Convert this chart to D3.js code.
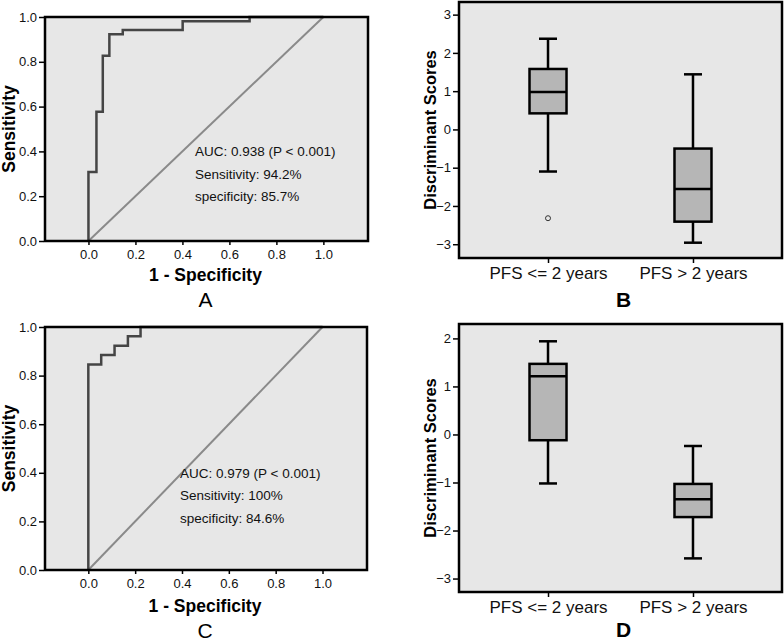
<!DOCTYPE html>
<html>
<head>
<meta charset="utf-8">
<script src="https://cdn.jsdelivr.net/npm/d3@7"></script>
<style>
  html, body { margin: 0; padding: 0; background: #fff; }
  svg { display: block; font-family: "Liberation Sans", Arial, sans-serif; }
</style>
</head>
<body>
<div id="chartContainer"></div>
<script>
// ROC curve A (1 - specificity, sensitivity)
const rocA_fpr = [0, 0, 0.034, 0.061, 0.089, 0.146, 0.401, 0.686, 1];
const rocA_tpr = [0, 0.308, 0.577, 0.827, 0.923, 0.942, 0.981, 1, 1];
const rocA_text = ["AUC: 0.938 (P < 0.001)", "Sensitivity: 94.2%", "specificity: 85.7%"];

// ROC curve C
const rocC_fpr = [0, 0, 0.055, 0.112, 0.169, 0.223, 1];
const rocC_tpr = [0, 0.846, 0.885, 0.923, 0.962, 1, 1];
const rocC_text = ["AUC: 0.979 (P < 0.001)", "Sensitivity: 100%", "specificity: 84.6%"];

const rocTicks = [0, 0.2, 0.4, 0.6, 0.8, 1.0];

// box plots
const groups = ["PFS <= 2 years", "PFS > 2 years"];

const boxB_low = [-1.10, -2.96];
const boxB_q1 = [0.42, -2.41];
const boxB_med = [0.98, -1.56];
const boxB_q3 = [1.58, -0.50];
const boxB_high = [2.37, 1.44];
const boxB_outGroup = ["PFS <= 2 years"];
const boxB_outValue = [-2.32];
const boxB_ticks = [-3, -2, -1, 0, 1, 2, 3];

const boxD_low = [-1.02, -2.58];
const boxD_q1 = [-0.12, -1.72];
const boxD_med = [1.21, -1.35];
const boxD_q3 = [1.47, -1.03];
const boxD_high = [1.94, -0.24];
const boxD_ticks = [-3, -2, -1, 0, 1, 2];

const W = 784, H = 642;

const svg = d3.select('#chartContainer')
    .append('svg')
    .attr('width', W)
    .attr('height', H);

function styleAxis(g, size) {
    g.select('.domain').remove();
    g.selectAll('line').attr('stroke', '#000').attr('stroke-width', 1.5);
    g.selectAll('text')
        .attr('fill', '#111')
        .style('font-size', size + 'px')
        .style('font-family', '"Liberation Sans", Arial, sans-serif');
}

function drawRoc(box, fpr, tpr, lines, textX, letter, titleDy, letterDy) {
    const x = d3.scaleLinear().domain([-0.185, 1.19]).range([box.left, box.right]);
    const y = d3.scaleLinear().domain([0, 1]).range([box.bottom, box.top]);
    const g = svg.append('g');

    g.append('rect')
        .attr('x', box.left).attr('y', box.top)
        .attr('width', box.right - box.left).attr('height', box.bottom - box.top)
        .attr('fill', '#e7e7e7');

    // reference diagonal
    g.append('line')
        .attr('x1', x(0)).attr('y1', y(0))
        .attr('x2', x(1)).attr('y2', y(1))
        .attr('stroke', '#8a8a8a').attr('stroke-width', 2);

    const pts = fpr.map((d, i) => [d, tpr[i]]);
    const lineMaker = d3.line()
        .x(d => x(d[0]))
        .y(d => y(d[1]))
        .curve(d3.curveStepAfter);

    g.append('path')
        .attr('d', lineMaker(pts))
        .attr('fill', 'none')
        .attr('stroke', '#454545')
        .attr('stroke-width', 2.5);

    lines.forEach((t, i) => {
        g.append('text')
            .attr('x', textX)
            .attr('y', y(0.4) + 5 + i * 22.5)
            .attr('font-size', 13.5)
            .attr('fill', '#111')
            .text(t);
    });

    g.append('rect')
        .attr('x', box.left).attr('y', box.top)
        .attr('width', box.right - box.left).attr('height', box.bottom - box.top)
        .attr('fill', 'none')
        .attr('stroke', '#000').attr('stroke-width', 2.5);

    g.append('g')
        .attr('transform', `translate(${box.left - 1}, 0)`)
        .call(d3.axisLeft(y).tickValues(rocTicks).tickFormat(d3.format('.1f')).tickSize(5).tickPadding(2))
        .call(a => styleAxis(a, 13));

    g.append('g')
        .attr('transform', `translate(0, ${box.bottom + 1})`)
        .call(d3.axisBottom(x).tickValues(rocTicks).tickFormat(d3.format('.1f')).tickSize(3).tickPadding(5))
        .call(a => styleAxis(a, 13));

    const cx = (box.left + box.right) / 2;
    g.append('text')
        .attr('transform', `translate(9, ${(box.top + box.bottom) / 2}) rotate(-90)`)
        .attr('text-anchor', 'middle')
        .attr('dominant-baseline', 'central')
        .attr('font-size', 17.5).attr('font-weight', 'bold')
        .text('Sensitivity');

    g.append('text')
        .attr('x', cx - 1).attr('y', box.bottom + titleDy)
        .attr('text-anchor', 'middle')
        .attr('font-size', 17.5).attr('font-weight', 'bold')
        .text('1 - Specificity');

    g.append('text')
        .attr('x', cx - 1).attr('y', box.bottom + letterDy)
        .attr('text-anchor', 'middle')
        .attr('font-size', 21)
        .text(letter);
}

function drawBox(box, domainY, ticks, low, q1, med, q3, high, outGroup, outValue, letter, letterDy) {
    const x = d3.scalePoint().domain(groups).range([box.left, box.right]).padding(0.614);
    const y = d3.scaleLinear().domain(domainY).range([box.bottom, box.top]);
    const g = svg.append('g');
    const bw = 37, cap = 18;

    g.append('rect')
        .attr('x', box.left).attr('y', box.top)
        .attr('width', box.right - box.left).attr('height', box.bottom - box.top)
        .attr('fill', '#e7e7e7');

    const items = groups.map((k, i) => ({ k, low: low[i], q1: q1[i], med: med[i], q3: q3[i], high: high[i] }));

    const b = g.selectAll('g.box').data(items).enter().append('g');

    b.append('line')
        .attr('x1', d => x(d.k)).attr('x2', d => x(d.k))
        .attr('y1', d => y(d.high)).attr('y2', d => y(d.low))
        .attr('stroke', '#000').attr('stroke-width', 2.5);

    b.append('line')
        .attr('x1', d => x(d.k) - cap / 2).attr('x2', d => x(d.k) + cap / 2)
        .attr('y1', d => y(d.high)).attr('y2', d => y(d.high))
        .attr('stroke', '#000').attr('stroke-width', 2.5);

    b.append('line')
        .attr('x1', d => x(d.k) - cap / 2).attr('x2', d => x(d.k) + cap / 2)
        .attr('y1', d => y(d.low)).attr('y2', d => y(d.low))
        .attr('stroke', '#000').attr('stroke-width', 2.5);

    b.append('rect')
        .attr('x', d => x(d.k) - bw / 2)
        .attr('y', d => y(d.q3))
        .attr('width', bw)
        .attr('height', d => y(d.q1) - y(d.q3))
        .attr('fill', '#b6b6b6')
        .attr('stroke', '#000').attr('stroke-width', 2.5);

    b.append('line')
        .attr('x1', d => x(d.k) - bw / 2).attr('x2', d => x(d.k) + bw / 2)
        .attr('y1', d => y(d.med)).attr('y2', d => y(d.med))
        .attr('stroke', '#000').attr('stroke-width', 2.5);

    g.selectAll('circle')
        .data(outValue.map((v, i) => ({ k: outGroup[i], v })))
        .enter()
        .append('circle')
        .attr('cx', d => x(d.k)).attr('cy', d => y(d.v))
        .attr('r', 2.5)
        .attr('fill', 'none')
        .attr('stroke', '#333').attr('stroke-width', 1);

    g.append('rect')
        .attr('x', box.left).attr('y', box.top)
        .attr('width', box.right - box.left).attr('height', box.bottom - box.top)
        .attr('fill', 'none')
        .attr('stroke', '#000').attr('stroke-width', 2.5);

    g.append('g')
        .attr('transform', `translate(${box.left - 1}, 0)`)
        .call(d3.axisLeft(y).tickValues(ticks).tickFormat(d3.format('d')).tickSize(5).tickPadding(2))
        .call(a => styleAxis(a, 13));

    g.append('g')
        .attr('transform', `translate(0, ${box.bottom + 1})`)
        .call(d3.axisBottom(x).tickSize(4).tickPadding(4))
        .call(a => styleAxis(a, 17));

    g.append('text')
        .attr('transform', `translate(430, ${(box.top + box.bottom) / 2}) rotate(-90)`)
        .attr('text-anchor', 'middle')
        .attr('dominant-baseline', 'central')
        .attr('font-size', 16.5).attr('font-weight', 'bold')
        .text('Discriminant Scores');

    g.append('text')
        .attr('x', (box.left + box.right) / 2 + 3).attr('y', box.bottom + letterDy)
        .attr('text-anchor', 'middle')
        .attr('font-size', 21).attr('font-weight', 'bold')
        .text(letter);
}

drawRoc({ left: 45, right: 368, top: 17, bottom: 241 }, rocA_fpr, rocA_tpr, rocA_text, 195, 'A', 40, 66);
drawRoc({ left: 45, right: 367, top: 327, bottom: 570 }, rocC_fpr, rocC_tpr, rocC_text, 180, 'C', 42, 68);

drawBox({ left: 459, right: 782, top: 2, bottom: 258 }, [-3.36, 3.33], boxB_ticks,
    boxB_low, boxB_q1, boxB_med, boxB_q3, boxB_high, boxB_outGroup, boxB_outValue, 'B', 49);
drawBox({ left: 459, right: 782, top: 324, bottom: 592 }, [-3.28, 2.30], boxD_ticks,
    boxD_low, boxD_q1, boxD_med, boxD_q3, boxD_high, [], [], 'D', 45);
</script>
</body>
</html>
